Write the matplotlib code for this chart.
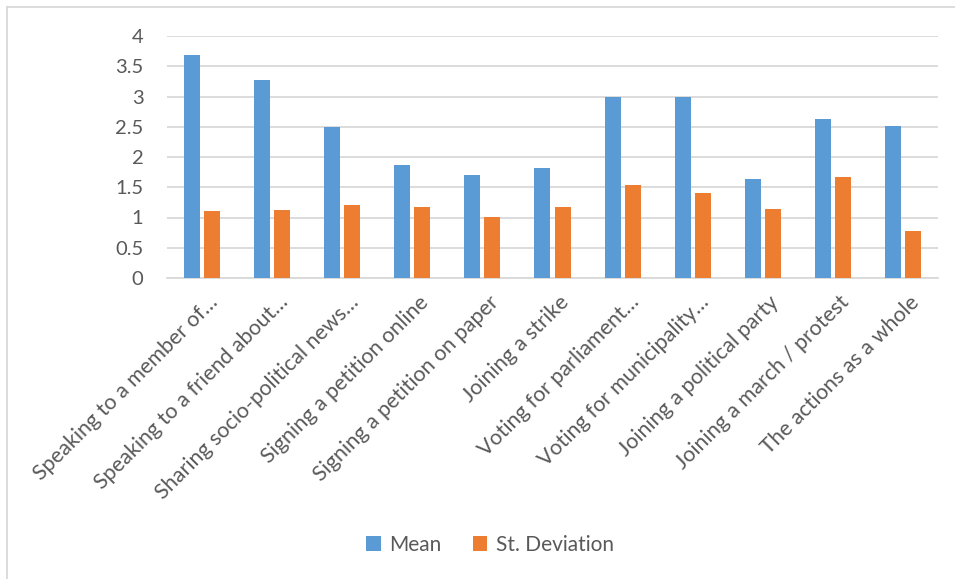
import matplotlib
matplotlib.use("Agg")
import matplotlib.pyplot as plt
import matplotlib.transforms as mtransforms
from matplotlib.lines import Line2D
import numpy as np

plt.rcParams['font.family'] = ['Lato', 'DejaVu Sans']

categories = [
    "Speaking to a member of…",
    "Speaking to a friend about…",
    "Sharing socio-political news…",
    "Signing a petition online",
    "Signing a petition on paper",
    "Joining a strike",
    "Voting for parliament…",
    "Voting for municipality…",
    "Joining a political party",
    "Joining a march / protest",
    "The actions as a whole",
]
mean_values = [3.69, 3.27, 2.49, 1.86, 1.70, 1.81, 3.00, 3.00, 1.64, 2.63, 2.51]
std_values = [1.10, 1.13, 1.20, 1.18, 1.01, 1.17, 1.54, 1.41, 1.14, 1.67, 0.78]
y_ticks = [0, 0.5, 1, 1.5, 2, 2.5, 3, 3.5, 4]
y_tick_labels = ["0", "0.5", "1", "1.5", "2", "2.5", "3", "3.5", "4"]

blue = "#5B9BD5"
orange = "#ED7D31"
grid_gray = "#D9D9D9"
text_gray = "#595959"

W, H = 955, 579
fig = plt.figure(figsize=(W / 100, H / 100), dpi=100)
ax = fig.add_axes([167 / W, (H - 278) / H, 771 / W, 242 / H])

x = np.arange(len(categories))
bw = 0.228
off = 0.143
ax.bar(x - off, mean_values, bw, color=blue, label="Mean", zorder=3)
ax.bar(x + off, std_values, bw, color=orange, label="St. Deviation", zorder=3)

ax.set_xlim(-0.5, len(categories) - 0.5)
ax.set_ylim(0, 4)
ax.set_yticks(y_ticks)
ax.set_yticklabels(y_tick_labels)
ax.yaxis.grid(True, color=grid_gray, linewidth=1.3, zorder=0)
ax.set_axisbelow(True)
for side in ["top", "right", "left"]:
    ax.spines[side].set_visible(False)
ax.spines["bottom"].set_color(grid_gray)
ax.spines["bottom"].set_linewidth(1.3)

ax.tick_params(axis="y", length=0, pad=17, labelsize=14.5, labelcolor=text_gray)
ax.tick_params(axis="x", length=0, pad=10, labelsize=15.5, labelcolor=text_gray)
ax.set_xticks(x)
ax.set_xticklabels(categories, rotation=45, ha="right", va="top",
                   rotation_mode="anchor")
shift = mtransforms.ScaledTranslation(6 / 100, 0, fig.dpi_scale_trans)
for lbl in ax.get_xticklabels():
    lbl.set_transform(lbl.get_transform() + shift)

leg = fig.legend(loc="center", bbox_to_anchor=(490 / W, (H - 545) / H),
                 ncol=2, frameon=False, fontsize=15, handlelength=0.7,
                 handleheight=0.7, handletextpad=0.4, columnspacing=1.5)
for t in leg.get_texts():
    t.set_color(text_gray)

# outer chart frame
fig.add_artist(Line2D([6.5 / W, 1], [(H - 7) / H, (H - 7) / H],
                      transform=fig.transFigure, color=grid_gray, linewidth=1.3))
fig.add_artist(Line2D([6.5 / W, 6.5 / W], [0, (H - 7) / H],
                      transform=fig.transFigure, color=grid_gray, linewidth=1.3))

fig.savefig("out.png", dpi=100, facecolor="white")
